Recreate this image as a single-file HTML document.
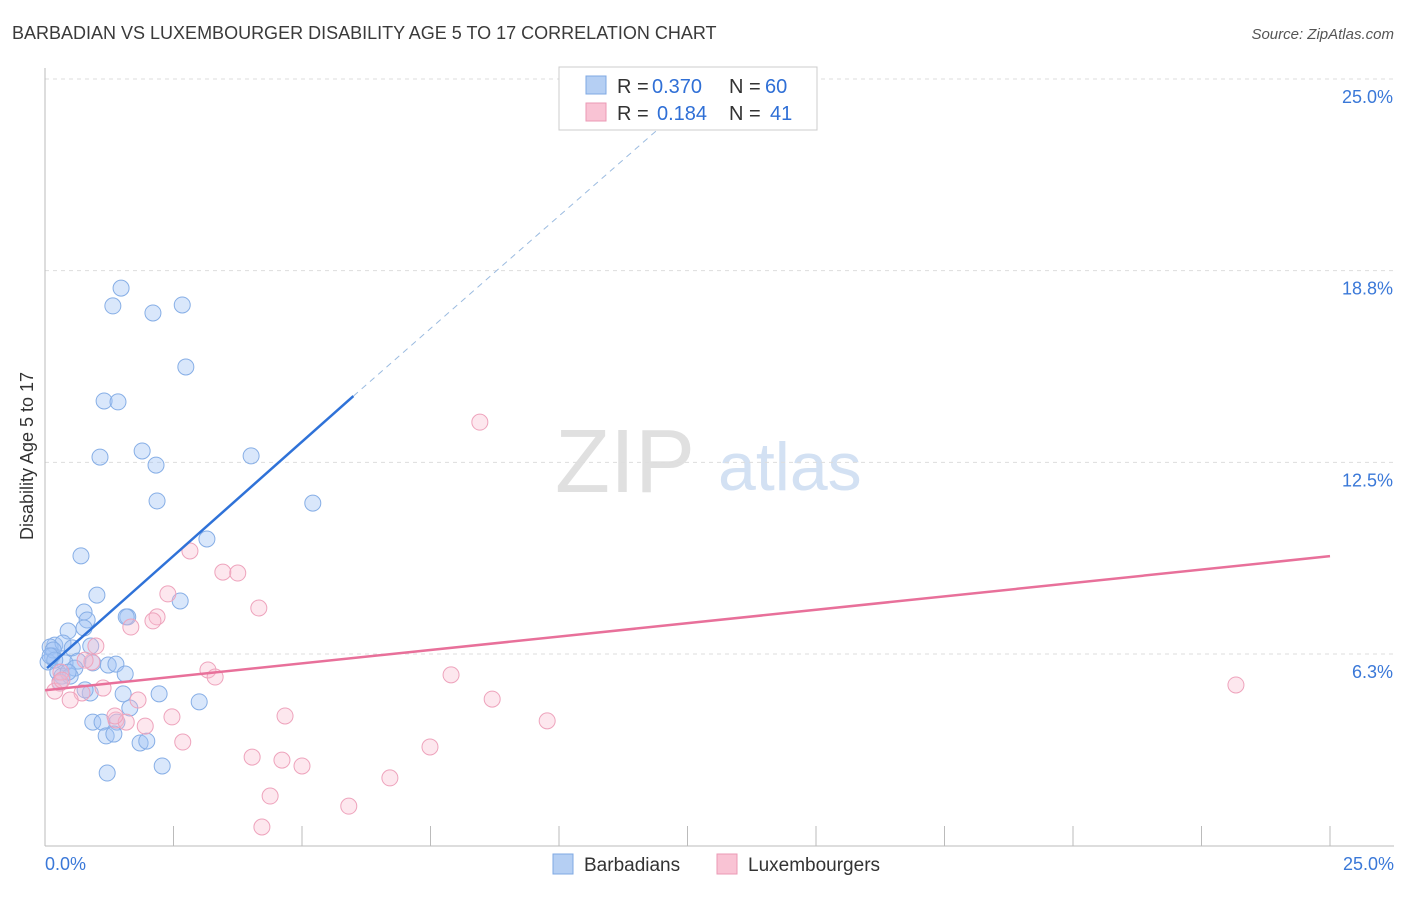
<!DOCTYPE html>
<html><head><meta charset="utf-8"><style>
body{margin:0;background:#fff;font-family:"Liberation Sans",sans-serif}
svg text{font-family:"Liberation Sans",sans-serif}
</style></head><body>
<svg id="chart" width="1406" height="892">
<text x="12" y="39" font-size="18" fill="#3a3a3a">BARBADIAN VS LUXEMBOURGER DISABILITY AGE 5 TO 17 CORRELATION CHART</text>
<text x="1394" y="39" font-size="15" fill="#555" font-style="italic" text-anchor="end">Source: ZipAtlas.com</text>
<text x="33" y="456" font-size="18" fill="#333" transform="rotate(-90 33 456)" text-anchor="middle">Disability Age 5 to 17</text>
<g><text x="555" y="492" font-size="90" fill="#e0e0e0" font-family="Liberation Serif">ZIP</text><text x="718" y="490" font-size="68" fill="#d3e1f3">atlas</text></g>
<g id="grid"></g><g id="pts"></g><g id="lines"></g>
<g>
<rect x="559" y="67" width="258" height="63" fill="#fff" stroke="#ccc"/>
<rect x="586" y="76" width="20" height="18" fill="#b5cff3" stroke="#7fa8e3"/>
<rect x="586" y="103" width="20" height="18" fill="#f9c3d4" stroke="#eb9ab5"/>
<text x="617" y="93" font-size="20" fill="#333">R =</text><text x="652" y="93" font-size="20" fill="#2f6fd6">0.370</text>
<text x="729" y="93" font-size="20" fill="#333">N =</text><text x="765" y="93" font-size="20" fill="#2f6fd6">60</text>
<text x="617" y="120" font-size="20" fill="#333">R =</text><text x="657" y="120" font-size="20" fill="#2f6fd6">0.184</text>
<text x="729" y="120" font-size="20" fill="#333">N =</text><text x="770" y="120" font-size="20" fill="#2f6fd6">41</text>
</g>
<g>
<rect x="553" y="854" width="20" height="20" fill="#b5cff3" stroke="#7fa8e3"/><text x="584" y="871" font-size="19" fill="#333">Barbadians</text>
<rect x="717" y="854" width="20" height="20" fill="#f9c3d4" stroke="#eb9ab5"/><text x="748" y="871" font-size="19" fill="#333">Luxembourgers</text>
</g>
</svg>
<script>
const yTicks=[6.25,12.5,18.75,25];
const yTickLabels=["6.3%","12.5%","18.8%","25.0%"];
const xTickLabels=["0.0%","25.0%"];
const bluePx=[[121,288],[113,306],[153,313],[182,305],[186,367],[104,401],[118,402],[142,451],[100,457],[156,465],[251,456],[157,501],[313,503],[207,539],[81,556],[97,595],[180,601],[84,612],[128,617],[126,617],[87,620],[84,628],[68,631],[55,645],[50,647],[63,643],[72,648],[52,656],[48,662],[91,646],[78,661],[93,663],[108,665],[116,664],[65,663],[75,668],[58,672],[62,676],[70,676],[125,674],[60,682],[90,693],[123,694],[159,694],[199,702],[130,708],[93,722],[102,722],[117,722],[106,736],[114,734],[140,743],[147,741],[162,766],[107,773],[53,650],[55,660],[68,672],[85,690],[50,656]];
const pinkPx=[[480,422],[190,551],[223,572],[238,573],[168,594],[259,608],[157,617],[153,621],[131,627],[96,646],[92,662],[208,670],[215,677],[451,675],[60,683],[103,688],[82,693],[55,691],[70,700],[138,700],[492,699],[547,721],[1236,685],[285,716],[172,717],[116,720],[145,726],[183,742],[430,747],[252,757],[282,760],[302,766],[390,778],[270,796],[349,806],[262,827],[126,722],[61,672],[115,716],[85,660],[62,680]];
const blueX=bluePx.map(p=>+((p[0]-45)/51.4).toFixed(2)), blueY=bluePx.map(p=>+((845.7-p[1])/30.67).toFixed(2));
const pinkX=pinkPx.map(p=>+((p[0]-45)/51.4).toFixed(2)), pinkY=pinkPx.map(p=>+((845.7-p[1])/30.67).toFixed(2));
const blueTrend=[0.04,5.79,6.0,14.66,12.35,23.98];
const pinkTrend=[0,5.07,25,9.44];
const X=v=>45+v*51.4, Y=v=>845.7-v*30.67;
const NS="http://www.w3.org/2000/svg";
function mk(t,a,p){const e=document.createElementNS(NS,t);for(const k in a)e.setAttribute(k,a[k]);p.appendChild(e);return e;}
const g=document.getElementById('grid');
yTicks.forEach((v,i)=>{const l=mk('line',{x1:45,x2:1394,y1:Y(v),y2:Y(v),stroke:'#ddd','stroke-dasharray':'4,4'},g);


const t=mk('text',{x:1393,y:Y(v)+24,'font-size':18,fill:'#3a78d8','text-anchor':'end'},g);t.textContent=yTickLabels[i];

});
mk('line',{x1:45,x2:45,y1:68,y2:846,stroke:'#bbb'},g);
mk('line',{x1:45,x2:1394,y1:846,y2:846,stroke:'#bbb'},g);
for(let i=0;i<=10;i++){const tk=mk('line',{x1:X(i*2.5),x2:X(i*2.5),y1:826,y2:846,stroke:'#bbb'},g);

}
[[45,'start'],[1394,'end']].forEach((a,i)=>{const t=mk('text',{x:a[0],y:870,'font-size':18,fill:'#3a78d8','text-anchor':a[1]},g);t.textContent=xTickLabels[i];

});
const pg=document.getElementById('pts');
blueX.forEach((x,i)=>{const c=mk('circle',{cx:X(x),cy:Y(blueY[i]),r:8,fill:'rgba(160,195,245,0.4)',stroke:'#86aee6'},pg);

});
pinkX.forEach((x,i)=>{const c=mk('circle',{cx:X(x),cy:Y(pinkY[i]),r:8,fill:'rgba(248,185,205,0.35)',stroke:'#eea3bc'},pg);

});
const lg=document.getElementById('lines');
const b1=mk('line',{x1:X(blueTrend[0]),y1:Y(blueTrend[1]),x2:X(blueTrend[2]),y2:Y(blueTrend[3]),stroke:'#2f72d8','stroke-width':2.5},lg);


const b2=mk('line',{x1:X(blueTrend[2]),y1:Y(blueTrend[3]),x2:X(blueTrend[4]),y2:Y(blueTrend[5]),stroke:'#9bbbe0','stroke-width':1,'stroke-dasharray':'6,5'},lg);


const p1=mk('line',{x1:X(pinkTrend[0]),y1:Y(pinkTrend[1]),x2:X(pinkTrend[2]),y2:Y(pinkTrend[3]),stroke:'#e8709a','stroke-width':2.5},lg);


</script>
</body></html>
